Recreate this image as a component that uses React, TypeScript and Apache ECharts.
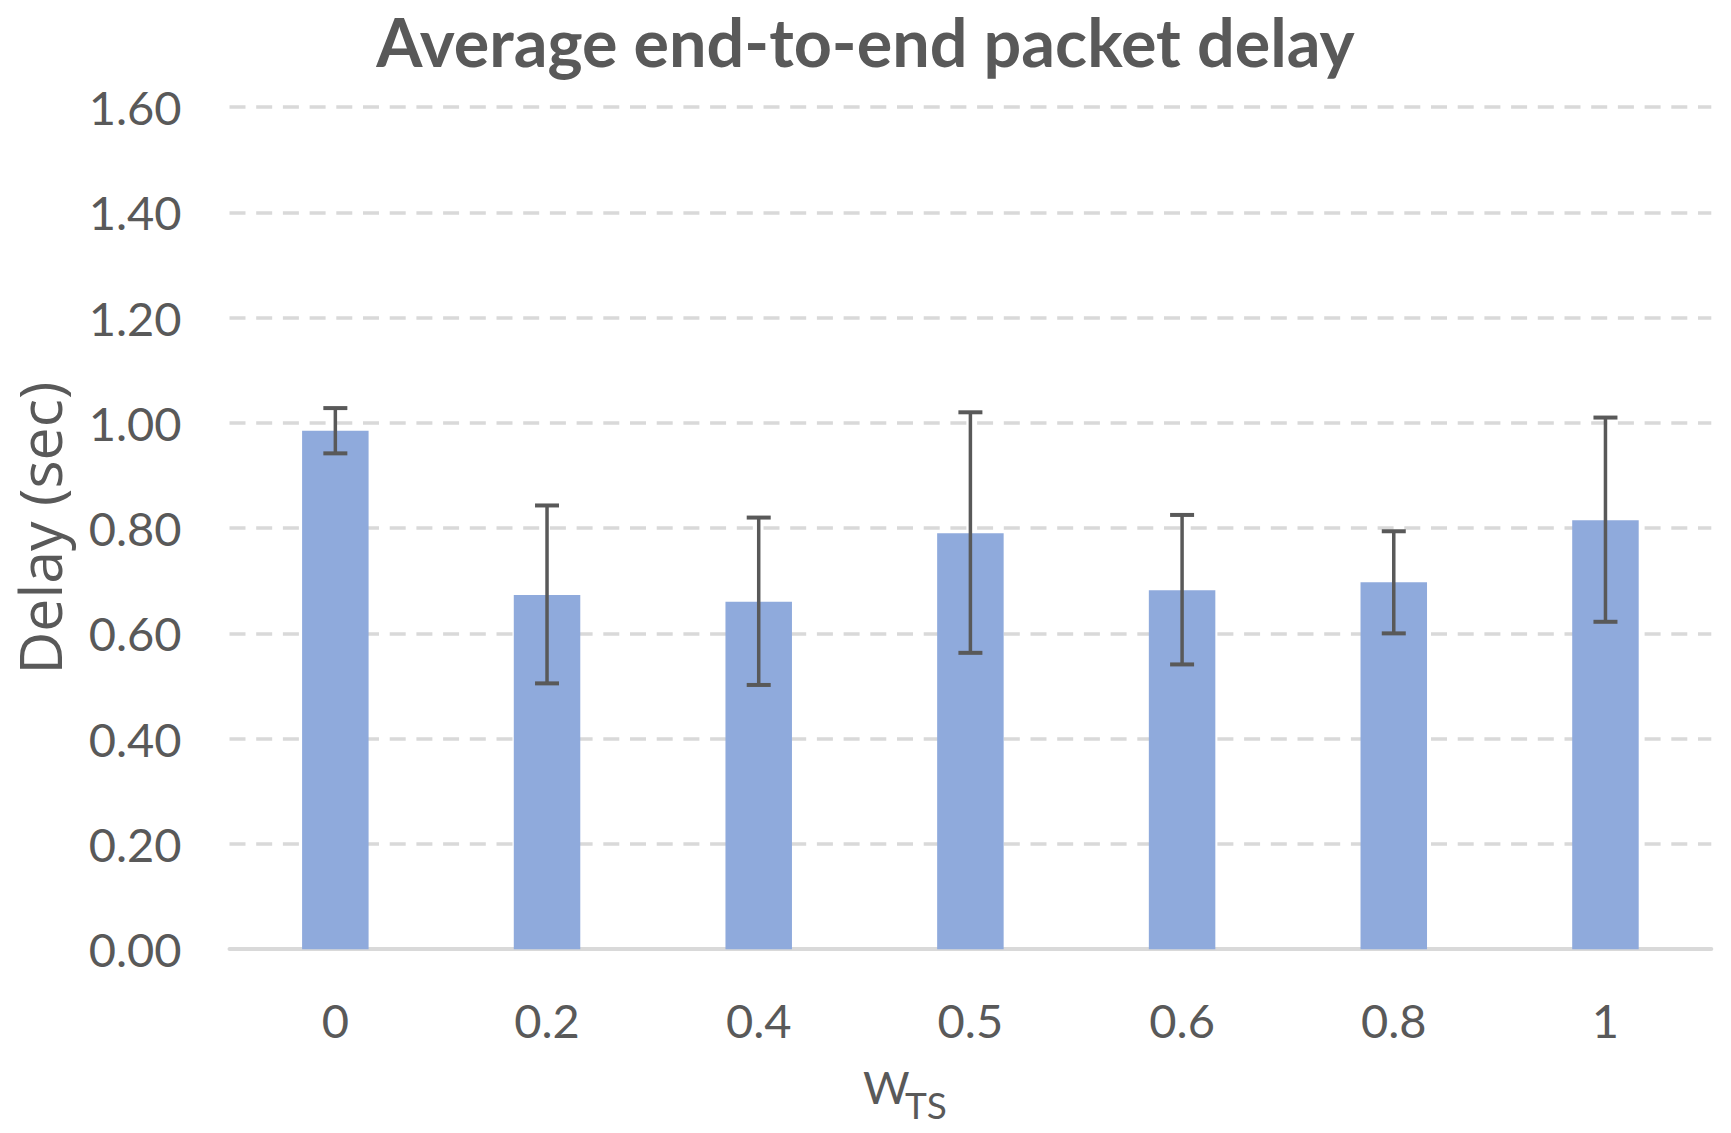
import React, { useEffect, useRef } from "react";
import * as echarts from "echarts";

const categories = ["0", "0.2", "0.4", "0.5", "0.6", "0.8", "1"];
const meanDelay = [0.985, 0.673, 0.66, 0.79, 0.682, 0.697, 0.815];
const upperDelay = [1.028, 0.843, 0.82, 1.02, 0.825, 0.794, 1.01];
const lowerDelay = [0.942, 0.505, 0.502, 0.563, 0.541, 0.6, 0.622];
const yTicks = { min: 0, max: 1.6, interval: 0.2 };

const FONT = "Lato, 'Liberation Sans', sans-serif";
const TEXT = "#595959";

export default function App() {
  const ref = useRef<HTMLDivElement>(null);
  useEffect(() => {
    if (!ref.current) return;
    const chart = echarts.init(ref.current, undefined, { renderer: "svg" });
    const errData = categories.map((_, i) => [i, lowerDelay[i], upperDelay[i]]);
    chart.setOption({
      animation: false,
      backgroundColor: "#ffffff",
      title: {
        text: "Average end-to-end packet delay",
        left: "center",
        top: 0,
        padding: 0,
        textStyle: { fontFamily: FONT, fontWeight: "bold", fontSize: 66.5, lineHeight: 82, color: TEXT },
      },
      grid: { left: 229.5, right: 19.7, top: 107, bottom: 183.8, containLabel: false },
      xAxis: {
        type: "category",
        data: categories,
        axisLine: { show: true, lineStyle: { color: "#d9d9d9", width: 4 } },
        axisTick: { show: false },
        axisLabel: { fontFamily: FONT, fontSize: 47, lineHeight: 47, color: TEXT, margin: 47 },
        splitLine: { show: false },
      },
      yAxis: {
        type: "value",
        min: yTicks.min,
        max: yTicks.max,
        interval: yTicks.interval,
        name: "Delay (sec)",
        nameLocation: "middle",
        nameGap: 161,
        nameTextStyle: { fontFamily: "'Open Sans', sans-serif", fontSize: 59, lineHeight: 59, color: TEXT },
        axisLine: { show: false },
        axisTick: { show: false },
        axisLabel: {
          fontFamily: FONT,
          fontSize: 47,
          color: TEXT,
          margin: 48,
          formatter: (v: number) => v.toFixed(2),
        },
        splitLine: { show: true, lineStyle: { color: "#d9d9d9", width: 3.5, type: [16, 10.7] } },
      },
      graphic: [
        {
          type: "text",
          x: 863,
          y: 1086.6,
          style: { text: "W", fontFamily: FONT, fontSize: 45, fill: TEXT, align: "left", verticalAlign: "middle" },
        },
        {
          type: "text",
          x: 905,
          y: 1104,
          style: { text: "TS", fontFamily: FONT, fontSize: 37, fill: TEXT, align: "left", verticalAlign: "middle" },
        },
      ],
      series: [
        {
          type: "bar",
          data: meanDelay,
          barWidth: 66.5,
          itemStyle: { color: "#8faadc" },
          z: 2,
        },
        {
          type: "custom",
          data: errData,
          encode: { x: 0, y: [1, 2] },
          z: 5,
          renderItem: (params: any, api: any) => {
            const idx = api.value(0);
            const lo = api.coord([idx, api.value(1)]);
            const hi = api.coord([idx, api.value(2)]);
            const half = 12;
            const st = { stroke: "#595959", lineWidth: 3.5 };
            const cap = { stroke: "#595959", lineWidth: 4 };
            return {
              type: "group",
              children: [
                { type: "line", shape: { x1: hi[0], y1: hi[1], x2: lo[0], y2: lo[1] }, style: st },
                { type: "line", shape: { x1: hi[0] - half, y1: hi[1], x2: hi[0] + half, y2: hi[1] }, style: cap },
                { type: "line", shape: { x1: lo[0] - half, y1: lo[1], x2: lo[0] + half, y2: lo[1] }, style: cap },
              ],
            };
          },
        },
      ],
    });
    return () => chart.dispose();
  }, []);
  return <div ref={ref} style={{ position: "absolute", left: 0, top: 0, width: 1731, height: 1133 }} />;
}
